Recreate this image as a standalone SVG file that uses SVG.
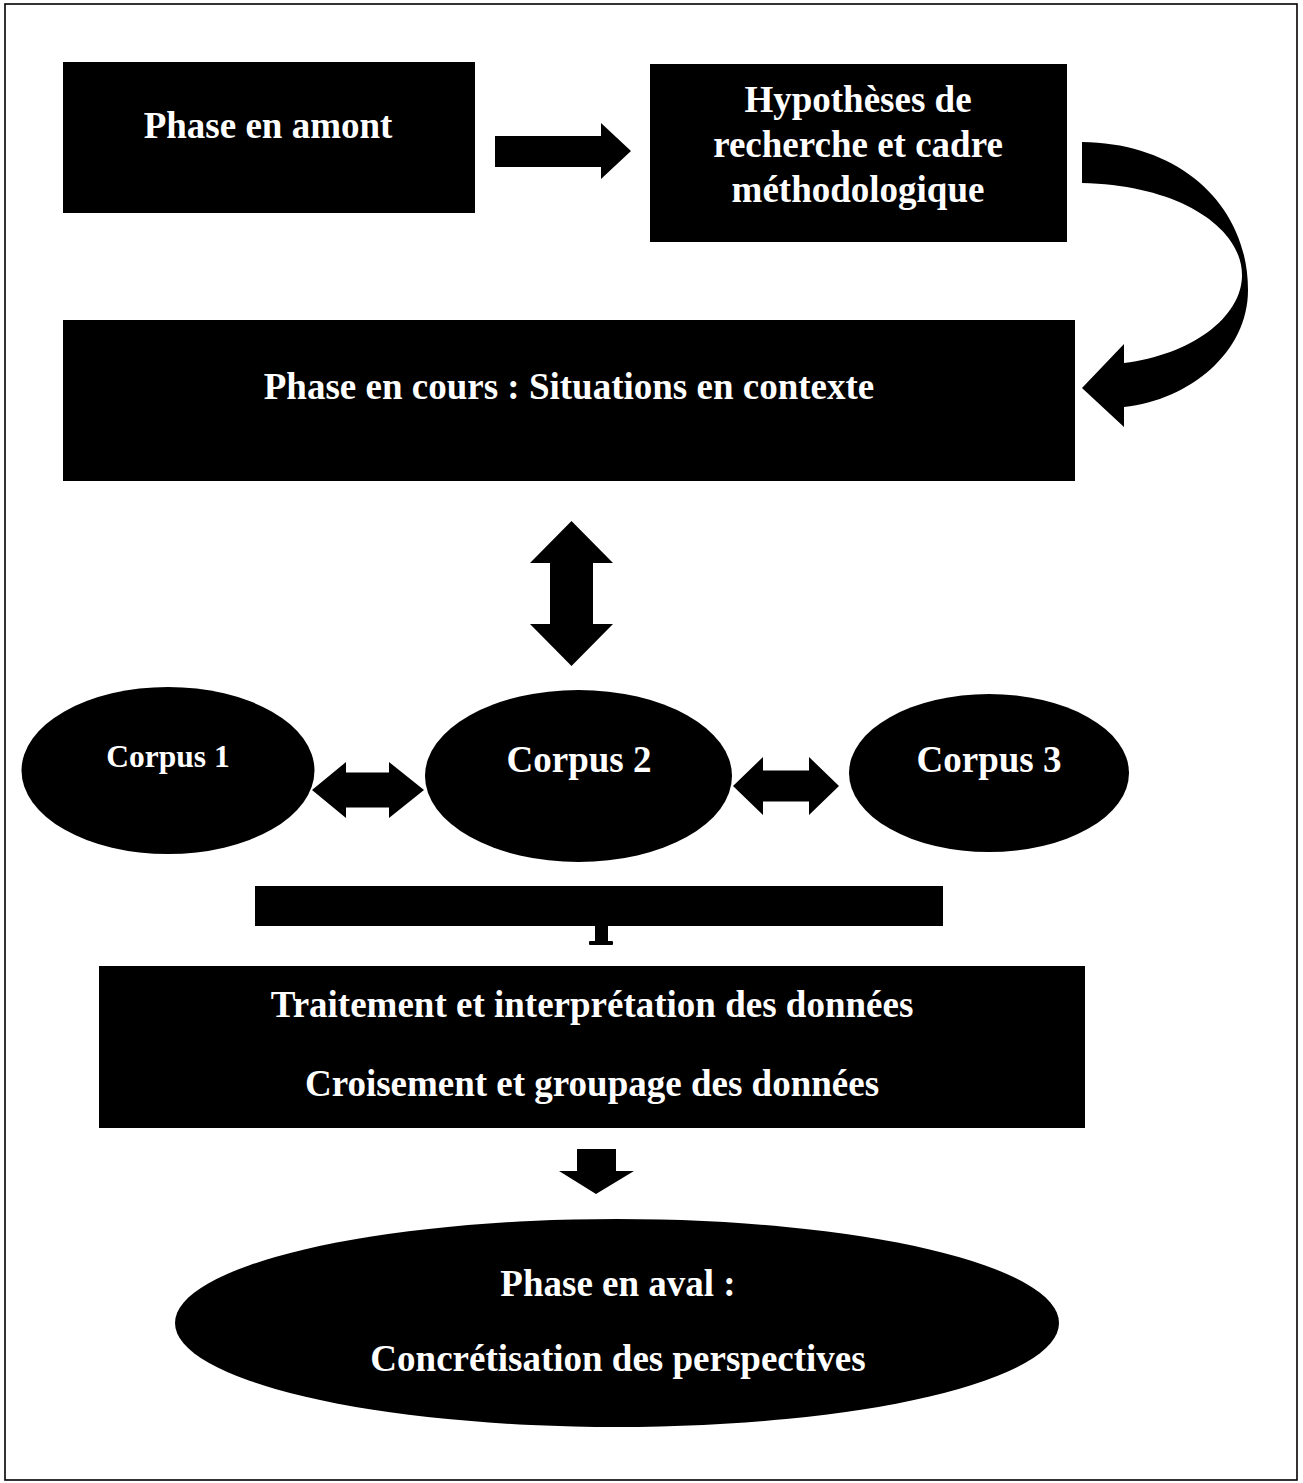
<svg xmlns="http://www.w3.org/2000/svg" width="1303" height="1483" viewBox="0 0 1303 1483">
<style>
.shape{fill:#000;stroke:none}
.lbl{fill:#fff;font-family:"Liberation Serif","Times New Roman",serif;font-weight:bold;font-size:37px;text-anchor:middle}
.small{font-size:31.5px}
.conn{fill:#000;stroke:none}
</style>
<rect x="0" y="0" width="1303" height="1483" fill="#fff"/>
<rect x="5" y="4" width="1292" height="1476" fill="none" stroke="#000" stroke-width="1.6"/>

<g id="node-phase-amont">
<rect class="shape" x="63" y="62" width="412" height="151"/>
<text class="lbl" x="268" y="138">Phase en amont</text>
</g>

<g id="node-hypotheses">
<rect class="shape" x="650" y="64" width="417" height="178"/>
<text class="lbl" x="858" y="112">Hypothèses de</text>
<text class="lbl" x="858" y="157">recherche et cadre</text>
<text class="lbl" x="858" y="202">méthodologique</text>
</g>

<g id="node-phase-cours">
<rect class="shape" x="63" y="320" width="1012" height="161"/>
<text class="lbl" x="569" y="399">Phase en cours : Situations en contexte</text>
</g>

<g id="node-corpus1">
<ellipse class="shape" cx="168" cy="770.5" rx="146.5" ry="83.5"/>
<text class="lbl small" x="168" y="767">Corpus 1</text>
</g>

<g id="node-corpus2">
<ellipse class="shape" cx="578.5" cy="776" rx="153.5" ry="86"/>
<text class="lbl" x="579" y="772">Corpus 2</text>
</g>

<g id="node-corpus3">
<ellipse class="shape" cx="989" cy="773" rx="140" ry="79"/>
<text class="lbl" x="989" y="772">Corpus 3</text>
</g>

<g id="node-bracket">
<rect class="shape" x="255" y="886" width="688" height="40"/>
<rect class="shape" x="595" y="925" width="13" height="18"/>
<rect class="shape" x="589" y="941" width="24" height="4" rx="1"/>
</g>

<g id="node-traitement">
<rect class="shape" x="99" y="966" width="986" height="162"/>
<text class="lbl" x="592" y="1017">Traitement et interprétation des données</text>
<text class="lbl" x="592" y="1096">Croisement et groupage des données</text>
</g>

<g id="node-phase-aval">
<ellipse class="shape" cx="617" cy="1323" rx="442" ry="104"/>
<text class="lbl" x="618" y="1296">Phase en aval :</text>
<text class="lbl" x="618" y="1371">Concrétisation des perspectives</text>
</g>

<g id="connectors">
<path class="conn" d="M495,136 L601,136 L601,123 L631,151 L601,179 L601,167 L495,167 Z"/>
<path class="conn" d="M1082,142 C1180,143 1248,205 1248,290 C1248,352 1190,400 1124,407 L1124,427 L1082,388 L1124,344 L1124,363 C1190,355 1242,318 1242,275 C1242,228 1180,185 1082,183 Z"/>
<path class="conn" d="M571.5,521 L613,563 L593,563 L593,624 L613,624 L571.5,666 L530,624 L550,624 L550,563 L530,563 Z"/>
<path class="conn" d="M312,790 L346,762 L346,772.5 L389,772.5 L389,762 L424,790 L389,818 L389,807.5 L346,807.5 L346,818 Z"/>
<path class="conn" d="M733,786 L763,757 L763,770.5 L809,770.5 L809,757 L839,786 L809,815 L809,801.5 L763,801.5 L763,815 Z"/>
<path class="conn" d="M577,1149 L616,1149 L616,1171 L634,1171 L596,1194 L559,1171 L577,1171 Z"/>
</g>
</svg>
